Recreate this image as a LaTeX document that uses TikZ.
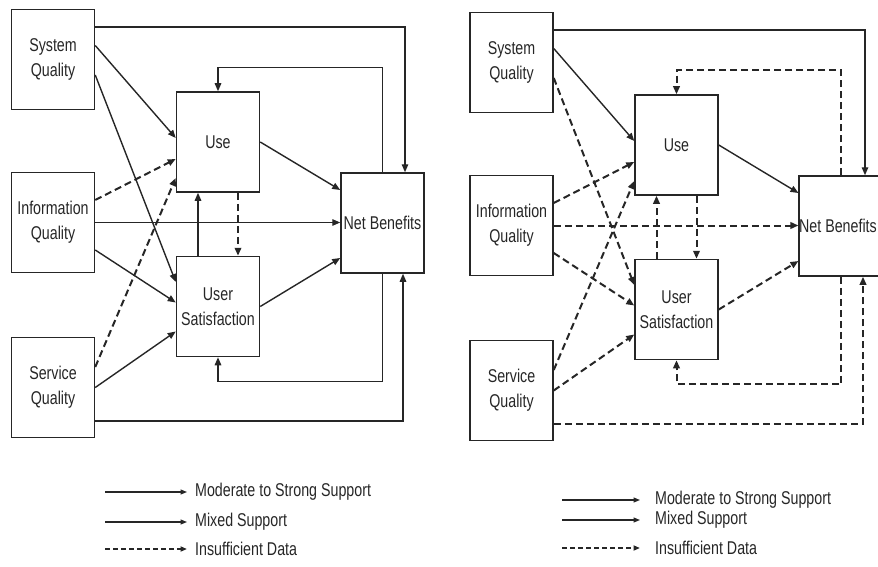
\documentclass[tikz,border=0pt]{standalone}
\usepackage{fontspec}
\setmainfont{Liberation Sans}[FakeStretch=0.77]
\usetikzlibrary{arrows.meta}
\newcommand\boxfont{\fontsize{18.5}{25}\selectfont}
\begin{document}
\begin{tikzpicture}[x=1pt,y=-1pt,
  box/.style={draw=black!85,line width=1.5pt,minimum width=83pt,minimum height=100pt,
    inner sep=0pt,align=center,font=\boxfont,text=black!85},
  link/.style={draw=black!85,line width=1.4pt,-{Triangle[length=8pt,width=6.5pt]}},
  support/.style={link},
  nodata/.style={link,line width=2pt,dash pattern=on 7pt off 4pt},
  legline/.style={draw=black!85,line width=1.2pt,-{Triangle[length=6.5pt,width=5pt]}},
  legdash/.style={legline,line width=1.7pt,dash pattern=on 5pt off 3pt},
  legtext/.style={anchor=west,inner sep=0pt,font=\boxfont,text=black!85}]
\useasboundingbox (0,0) rectangle (878,567);
\clip (0,0) rectangle (878,567);

% ---------- model with measured success links ----------
\node[box] (lSQ)  at (53,59.5)   {System\\Quality};
\node[box] (lIQ)  at (53,222.5)  {Information\\Quality};
\node[box] (lSV)  at (53,387.5)  {Service\\Quality};
\node[box] (lUse) at (218,142)   {Use};
\node[box] (lUS)  at (218,306.5) {User\\Satisfaction};
\node[box] (lNB)  at (382.5,223) {Net Benefits};

\draw[support] ([yshift=32.5pt]lSQ.east) -| ([xshift=22.5pt]lNB.north);
\draw[support] (lNB.north) |- ([yshift=24pt]lUse.north) -- (lUse.north);
\draw[support] ([yshift=14pt]lSQ.east) -- ([yshift=4pt]lUse.west);
\draw[support] ([yshift=-15.5pt]lSQ.east) -- ([yshift=24.5pt]lUS.west);
\draw[nodata]  ([yshift=22.5pt]lIQ.east) -- ([yshift=-17pt]lUse.west);
\draw[nodata]  ([yshift=20.5pt]lSV.east) -- ([yshift=-36pt]lUse.west);
\draw[support] (lIQ.east) -- (lIQ.east -| lNB.west);
\draw[support] ([yshift=-27.5pt]lIQ.east) -- ([yshift=4pt]lUS.west);
\draw[support] (lSV.east) -- ([yshift=-25pt]lUS.west);
\draw[support] ([xshift=-20pt]lUS.north) -- ([xshift=-20pt]lUse.south);
\draw[nodata]  ([xshift=20pt]lUse.south) -- ([xshift=20pt]lUS.north);
\draw[support] (lUse.east) -- ([yshift=33pt]lNB.west);
\draw[support] (lUS.east) -- ([yshift=-35pt]lNB.west);
\draw[support] (lNB.south) |- ([yshift=-24pt]lUS.south) -- (lUS.south);
\draw[support] ([yshift=-33.5pt]lSV.east) -| ([xshift=20.5pt]lNB.south);

% legend
\coordinate (lk1) at (105,492);
\coordinate (lk2) at (105,522);
\coordinate (lk3) at (105,549);
\node[legtext] (lt1) at (195,492) {Moderate to Strong Support};
\node[legtext] (lt2) at (195,522) {Mixed Support};
\node[legtext] (lt3) at (195,549) {Insufficient Data};
\draw[legline] (lk1) -- ([xshift=-8pt]lt1.west);
\draw[legline] (lk2) -- ([xshift=-8pt]lt2.west);
\draw[legdash] (lk3) -- ([xshift=-8pt]lt3.west);

% ---------- model with insufficient-data links ----------
\begin{scope}[shift={(458.5,3)}]
\node[box] (rSQ)  at (53,59.5)   {System\\Quality};
\node[box] (rIQ)  at (53,222.5)  {Information\\Quality};
\node[box] (rSV)  at (53,387.5)  {Service\\Quality};
\node[box] (rUse) at (218,142)   {Use};
\node[box] (rUS)  at (218,306.5) {User\\Satisfaction};
\node[box] (rNB)  at (382.5,223) {Net Benefits\hspace{6pt}};

\draw[support] ([yshift=32.5pt]rSQ.east) -| ([xshift=24pt]rNB.north);
\draw[nodata]  (rNB.north) |- ([yshift=24pt]rUse.north) -- (rUse.north);
\draw[support] ([yshift=14pt]rSQ.east) -- ([yshift=4pt]rUse.west);
\draw[nodata]  ([yshift=-15.5pt]rSQ.east) -- ([yshift=24.5pt]rUS.west);
\draw[nodata]  ([yshift=22.5pt]rIQ.east) -- ([yshift=-17pt]rUse.west);
\draw[nodata]  ([yshift=20.5pt]rSV.east) -- ([yshift=-36pt]rUse.west);
\draw[nodata]  (rIQ.east) -- (rIQ.east -| rNB.west);
\draw[nodata]  ([yshift=-27.5pt]rIQ.east) -- ([yshift=4pt]rUS.west);
\draw[nodata]  (rSV.east) -- ([yshift=-25pt]rUS.west);
\draw[nodata]  ([xshift=-20pt]rUS.north) -- ([xshift=-20pt]rUse.south);
\draw[nodata]  ([xshift=20pt]rUse.south) -- ([xshift=20pt]rUS.north);
\draw[support] (rUse.east) -- ([yshift=33pt]rNB.west);
\draw[nodata]  (rUS.east) -- ([yshift=-35pt]rNB.west);
\draw[nodata]  (rNB.south) |- ([yshift=-24pt]rUS.south) -- (rUS.south);
\draw[nodata]  ([yshift=-33.5pt]rSV.east) -| ([xshift=22pt]rNB.south);
\end{scope}

% legend
\coordinate (rk1) at (562,500);
\coordinate (rk2) at (562,520);
\coordinate (rk3) at (562,548);
\node[legtext] (rt1) at (655,500) {Moderate to Strong Support};
\node[legtext] (rt2) at (655,520) {Mixed Support};
\node[legtext] (rt3) at (655,548) {Insufficient Data};
\draw[legline] (rk1) -- ([xshift=-15pt]rt1.west);
\draw[legline] (rk2) -- ([xshift=-15pt]rt2.west);
\draw[legdash] (rk3) -- ([xshift=-15pt]rt3.west);
\end{tikzpicture}
\end{document}
